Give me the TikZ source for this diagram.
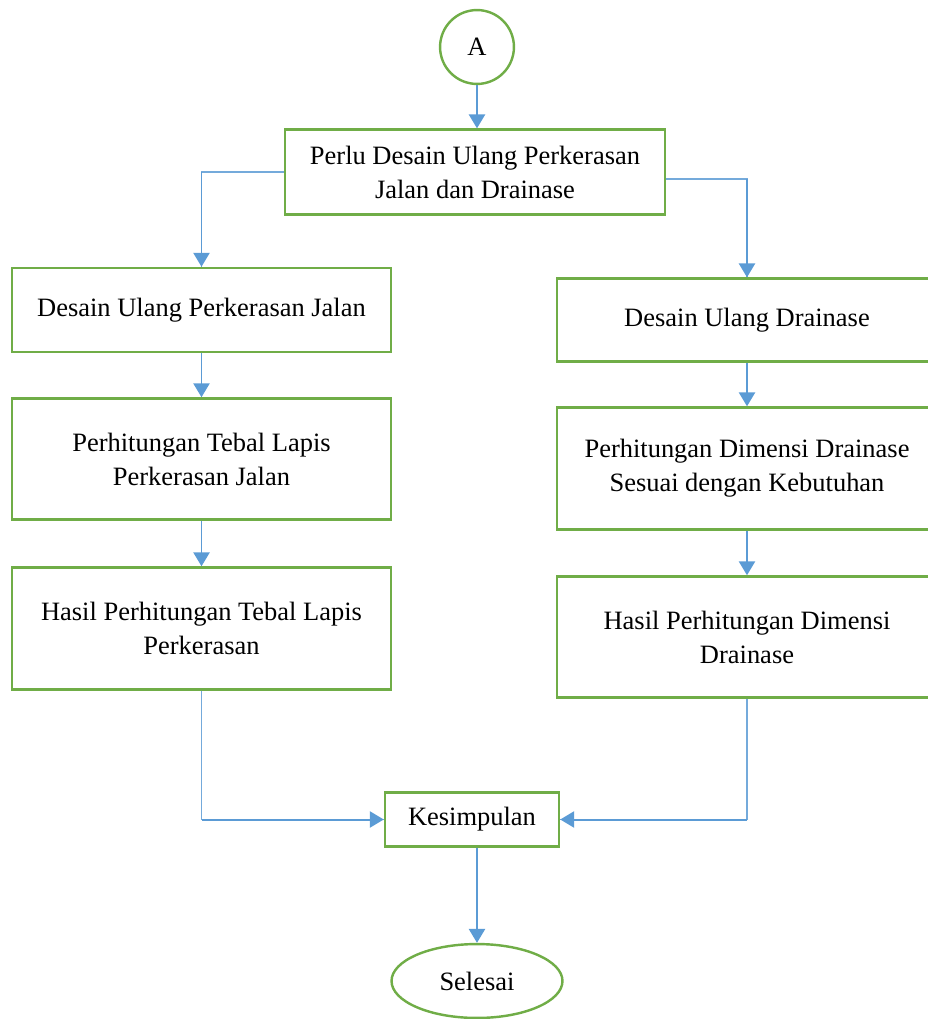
\documentclass[tikz,border=0pt]{standalone}
\usepackage{fontspec}
\setmainfont{Liberation Serif}
\usetikzlibrary{arrows.meta,shapes,calc,positioning}
\definecolor{boxgreen}{HTML}{70AD47}
\definecolor{arrblue}{HTML}{5B9BD5}

\begin{document}
\begin{tikzpicture}[x=0.4533pt, y=-0.4533pt]
			\tikzstyle{every node}=[font=\fontsize{12pt}{15.4pt}\selectfont, align=center]
			\tikzstyle{box}=[draw=boxgreen, line width=1.1pt, fill=white, minimum width=172pt, inner sep=0pt]
			\tikzstyle{arr}=[draw=arrblue, line width=0.9pt, -{Triangle[width=7.3pt, length=6.3pt]}]
			\tikzstyle{thinline}=[draw=arrblue!85, line width=0.55pt]
			\useasboundingbox (0,0) rectangle (928,1019);
			% start and first box
			\node [circle, draw=boxgreen, line width=1.1pt, minimum size=33.5pt, inner sep=0pt] (A) at (477,47) {A};
			\node [box, minimum height=38.5pt] (perlu) at (475,172) {Perlu Desain Ulang Perkerasan\\Jalan dan Drainase};
			% left column
			\node [box, minimum height=38.1pt] (dj) at (201.5,310) {Desain Ulang Perkerasan Jalan};
			\node [box, minimum height=54.9pt] (ptj) at (201.5,459) {Perhitungan Tebal Lapis\\Perkerasan Jalan};
			\node [box, minimum height=55.3pt] (htj) at (201.5,628.5) {Hasil Perhitungan Tebal Lapis\\Perkerasan};
			% right column
			\node [box, minimum height=37.6pt] (dd) at (747,320) {Desain Ulang Drainase};
			\node [box, minimum height=55.3pt] (pdd) at (747,468.5) {Perhitungan Dimensi Drainase\\Sesuai dengan Kebutuhan};
			\node [box, minimum height=54.9pt] (hdd) at (747,637) {Hasil Perhitungan Dimensi\\Drainase};
			% end
			\node [box, minimum width=78.9pt, minimum height=24.5pt] (kes) at (472,819.5) {Kesimpulan};
			\node [ellipse, draw=boxgreen, line width=1.1pt, minimum width=77.5pt, minimum height=33.5pt, inner sep=0pt] (selesai) at (477,981) {Selesai};
			% connectors
			\draw [arr] (A) -- (A |- perlu.north);
			\draw [thinline] (perlu.west) -| (dj.north);
			\draw [arr] (perlu.west -| dj.north) -- (dj.north);
			\draw [thinline] ([yshift=-3.2pt]perlu.east) -| (dd.north);
			\draw [arr] ([yshift=-3.2pt]perlu.east -| dd.north) -- (dd.north);
			\draw [arr] (dj) -- (ptj);
			\draw [arr] (ptj) -- (htj);
			\draw [arr] (dd) -- (pdd);
			\draw [arr] (pdd) -- (hdd);
			\draw [thinline] (htj.south) |- (kes.west);
			\draw [arr] (kes.west -| htj.south) -- (kes.west);
			\draw [thinline] (hdd.south) |- (kes.east);
			\draw [arr] (kes.east -| hdd.south) -- (kes.east);
			\draw [arr] (kes.south -| A) -- (selesai);
		\end{tikzpicture}
\end{document}
